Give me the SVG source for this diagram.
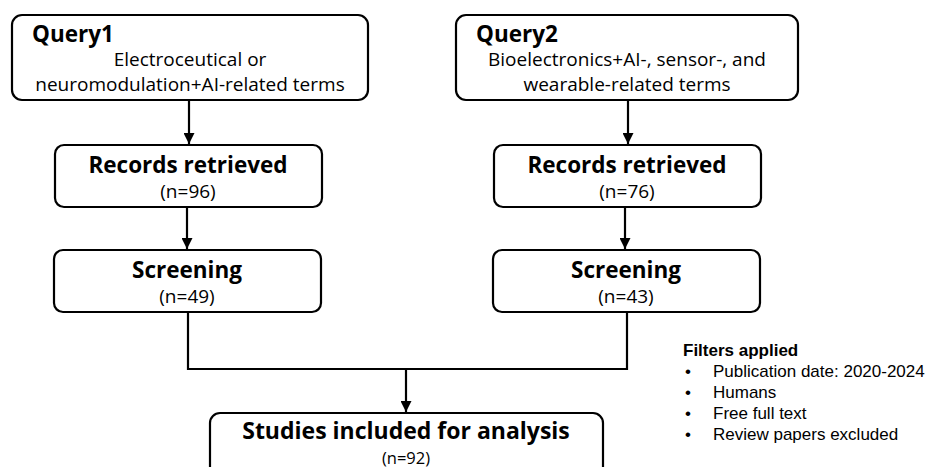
<svg xmlns="http://www.w3.org/2000/svg" width="930" height="467" viewBox="0 0 930 467">
<style>
.box{fill:#fff;stroke:#000;stroke-width:2.2}
.t{font-family:"Open Sans","Noto Sans",sans-serif;fill:#000}
.h{font-weight:bold;font-size:22.5px}
.s{font-size:19px}
.f{font-family:"Liberation Sans",Arial,sans-serif;font-size:17px;fill:#000}
.c{fill:none;stroke:#000;stroke-width:2.2}
</style>
<defs>
<marker id="ah" viewBox="0 0 10 10" refX="10" refY="5" markerWidth="5" markerHeight="5" orient="auto" markerUnits="strokeWidth">
<path d="M0,0 L10,5 L0,10 Z" fill="#000"/>
</marker>
</defs>
<rect width="930" height="467" fill="#fff"/>
<g id="connectors">
<line class="c" x1="189" y1="100" x2="189" y2="144" marker-end="url(#ah)"/>
<line class="c" x1="187" y1="208" x2="187" y2="249" marker-end="url(#ah)"/>
<line class="c" x1="628" y1="100" x2="628" y2="144" marker-end="url(#ah)"/>
<line class="c" x1="625" y1="208" x2="625" y2="249" marker-end="url(#ah)"/>
<polyline class="c" points="188,312 188,369 627,369 627,312"/>
<line class="c" x1="406" y1="369" x2="406" y2="412" marker-end="url(#ah)"/>
</g>
<g id="query1">
<rect class="box" x="12" y="15" width="356" height="85" rx="10"/>
<text class="t h" x="32" y="42" font-size="22">Query1</text>
<text class="t s" x="190" y="66" text-anchor="middle">Electroceutical or</text>
<text class="t s" x="190" y="91" text-anchor="middle">neuromodulation+AI-related terms</text>
</g>
<g id="query2">
<rect class="box" x="456" y="15" width="342" height="85" rx="10"/>
<text class="t h" x="476" y="42">Query2</text>
<text class="t s" x="627" y="66" text-anchor="middle">Bioelectronics+AI-, sensor-, and</text>
<text class="t s" x="627" y="91" text-anchor="middle">wearable-related terms</text>
</g>
<g id="records1">
<rect class="box" x="55" y="145" width="267" height="62" rx="9"/>
<text class="t h" x="188" y="173" text-anchor="middle">Records retrieved</text>
<text class="t s" x="188" y="198" text-anchor="middle">(n=96)</text>
</g>
<g id="screening1">
<rect class="box" x="54" y="250" width="267" height="62" rx="9"/>
<text class="t h" x="187" y="278" text-anchor="middle">Screening</text>
<text class="t s" x="187" y="303" text-anchor="middle">(n=49)</text>
</g>
<g id="records2">
<rect class="box" x="494" y="145" width="267" height="62" rx="9"/>
<text class="t h" x="627" y="173" text-anchor="middle">Records retrieved</text>
<text class="t s" x="627" y="198" text-anchor="middle">(n=76)</text>
</g>
<g id="screening2">
<rect class="box" x="493" y="250" width="267" height="62" rx="9"/>
<text class="t h" x="626" y="278" text-anchor="middle">Screening</text>
<text class="t s" x="626" y="303" text-anchor="middle">(n=43)</text>
</g>
<g id="studies">
<rect class="box" x="210" y="413" width="393" height="70" rx="10"/>
<text class="t" x="406" y="439" text-anchor="middle" font-weight="bold" font-size="23">Studies included for analysis</text>
<text class="t" x="406" y="464" text-anchor="middle" font-size="16.5">(n=92)</text>
</g>
<g id="filters">
<text class="f" x="683" y="356" font-weight="bold">Filters applied</text>
<text class="f" x="685" y="377">•</text><text class="f" x="713" y="377">Publication date: 2020-2024</text>
<text class="f" x="685" y="398">•</text><text class="f" x="713" y="398">Humans</text>
<text class="f" x="685" y="419">•</text><text class="f" x="713" y="419">Free full text</text>
<text class="f" x="685" y="440">•</text><text class="f" x="713" y="440">Review papers excluded</text>
</g>
</svg>
